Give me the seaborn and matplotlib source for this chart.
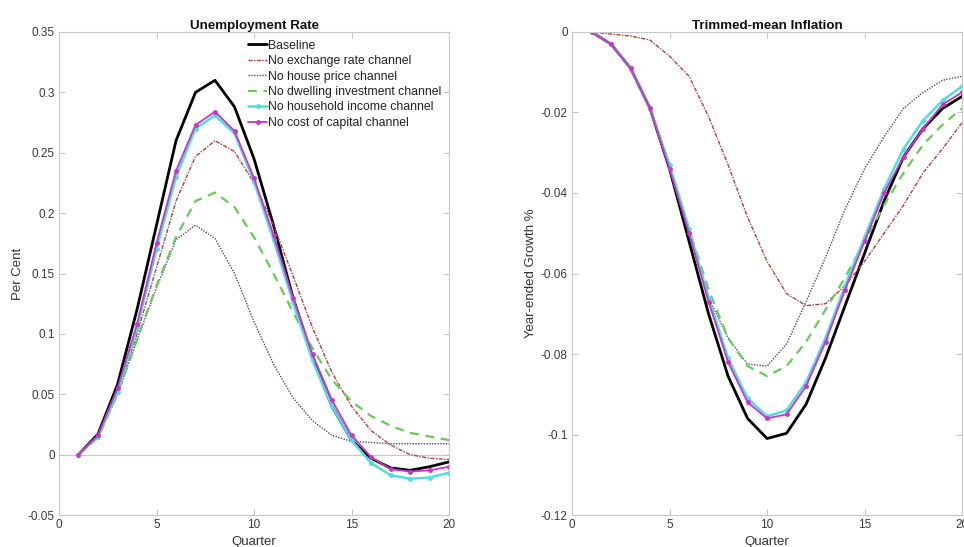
import matplotlib
matplotlib.use("Agg")
import matplotlib.pyplot as plt
from matplotlib.ticker import FuncFormatter
import numpy as np
import pandas as pd
import seaborn as sns

quarters = list(range(1, 21))

# unemployment rate responses (per cent)
unemp_baseline = [0, 0.017, 0.058, 0.12, 0.19, 0.26, 0.30, 0.31, 0.288, 0.245,
                  0.19, 0.13, 0.08, 0.04, 0.012, -0.003, -0.011, -0.013, -0.010, -0.006]
unemp_exchange = [0, 0.015, 0.05, 0.10, 0.155, 0.21, 0.247, 0.26, 0.251, 0.225,
                  0.19, 0.148, 0.105, 0.068, 0.04, 0.02, 0.008, 0.0, -0.003, -0.004]
unemp_house = [0, 0.015, 0.05, 0.095, 0.138, 0.178, 0.19, 0.179, 0.15, 0.11,
               0.075, 0.047, 0.028, 0.016, 0.011, 0.01, 0.009, 0.009, 0.009, 0.009]
unemp_dwelling = [0, 0.014, 0.05, 0.095, 0.14, 0.18, 0.21, 0.217, 0.205, 0.18,
                  0.15, 0.118, 0.088, 0.062, 0.044, 0.032, 0.024, 0.018, 0.015, 0.012]
unemp_income = [0, 0.015, 0.052, 0.105, 0.17, 0.23, 0.27, 0.281, 0.266, 0.226,
                0.178, 0.126, 0.078, 0.04, 0.012, -0.007, -0.017, -0.02, -0.019, -0.015]
unemp_capital = [0, 0.016, 0.055, 0.108, 0.175, 0.235, 0.273, 0.284, 0.268, 0.229,
                 0.182, 0.13, 0.083, 0.045, 0.016, -0.002, -0.012, -0.014, -0.013, -0.010]

# trimmed-mean inflation responses (year-ended growth %)
infl_baseline = [0, -0.003, -0.009, -0.019, -0.034, -0.052, -0.070, -0.0855, -0.096, -0.101,
                 -0.0997, -0.0925, -0.081, -0.068, -0.055, -0.042, -0.031, -0.024, -0.019, -0.016]
infl_exchange = [0, -0.0005, -0.001, -0.002, -0.006, -0.011, -0.021, -0.033, -0.046, -0.057,
                 -0.065, -0.068, -0.0675, -0.063, -0.057, -0.050, -0.043, -0.035, -0.029, -0.0225]
infl_house = [0, -0.003, -0.009, -0.019, -0.034, -0.050, -0.066, -0.076, -0.0825, -0.083,
              -0.0775, -0.067, -0.056, -0.044, -0.034, -0.026, -0.019, -0.015, -0.012, -0.011]
infl_dwelling = [0, -0.003, -0.009, -0.019, -0.033, -0.049, -0.064, -0.076, -0.083, -0.0855,
                 -0.083, -0.077, -0.069, -0.061, -0.052, -0.043, -0.035, -0.028, -0.023, -0.019]
infl_income = [0, -0.003, -0.009, -0.019, -0.033, -0.049, -0.066, -0.081, -0.091, -0.0955,
               -0.094, -0.087, -0.076, -0.063, -0.051, -0.039, -0.029, -0.022, -0.017, -0.0135]
infl_capital = [0, -0.003, -0.009, -0.019, -0.034, -0.050, -0.067, -0.082, -0.092, -0.096,
                -0.095, -0.088, -0.077, -0.064, -0.052, -0.040, -0.031, -0.024, -0.018, -0.015]

labels = ["Baseline", "No exchange rate channel", "No house price channel",
          "No dwelling investment channel", "No household income channel",
          "No cost of capital channel"]

# style for each series: colour, linestyle, linewidth, marker
styles = [
    ("#000000", "-", 2.0, None),
    ("#b5403a", (0, (3, 1, 1, 1)), 1.0, None),
    ("#4a4a8c", (0, (1, 1)), 1.0, None),
    ("#66cc55", (0, (4, 3)), 1.6, None),
    ("#4fdde0", "-", 1.8, "o"),
    ("#cc33cc", "-", 1.3, "o"),
]

sns.set_style("white")
plt.rcParams['font.family'] = ['Liberation Sans', 'DejaVu Sans']

fig = plt.figure(figsize=(9.64, 5.47), dpi=100)
axL = fig.add_axes([0.0612, 0.0585, 0.4046, 0.883])
axR = fig.add_axes([0.5934, 0.0585, 0.4046, 0.883])


def fmt(v, pos):
    return "%g" % round(v, 4)


def drawPanel(ax, seriesList, title, ylabel, ylim, yticks):
    for vals, lab, (col, ls, lw, mk) in zip(seriesList, labels, styles):
        df = pd.DataFrame({"Quarter": quarters, "value": vals})
        sns.lineplot(data=df, x="Quarter", y="value", ax=ax, color=col, linestyle=ls,
                     linewidth=lw, marker=mk, markersize=3.5 if mk else 0,
                     markeredgewidth=0, label=lab, legend=False)
    ax.set_xlim(0, 20)
    ax.set_ylim(*ylim)
    ax.set_xticks([0, 5, 10, 15, 20])
    ax.set_yticks(yticks)
    ax.yaxis.set_major_formatter(FuncFormatter(fmt))
    ax.set_title(title, fontsize=9.6, fontweight="bold", pad=2.5, color="#111111")
    ax.set_xlabel("Quarter", fontsize=9.5, color="#333333")
    ax.set_ylabel(ylabel, fontsize=9.5, color="#333333")
    ax.xaxis.set_label_coords(0.5, -0.043)
    ax.yaxis.set_label_coords(-0.089, 0.5)
    ax.tick_params(direction="in", length=4, width=0.6, colors="#bbbbbb",
                   labelcolor="#3a3a3a", labelsize=8.5, top=True, right=True,
                   bottom=True, left=True, pad=3)
    for sp in ax.spines.values():
        sp.set_color("#c8c8c8")
        sp.set_linewidth(0.8)
    ax.grid(False)


drawPanel(axL, [unemp_baseline, unemp_exchange, unemp_house, unemp_dwelling,
                unemp_income, unemp_capital],
          "Unemployment Rate", "Per Cent", (-0.05, 0.35),
          np.arange(-0.05, 0.351, 0.05))
axL.axhline(0, color="#c8c8c8", linewidth=0.8, zorder=0)

drawPanel(axR, [infl_baseline, infl_exchange, infl_house, infl_dwelling,
                infl_income, infl_capital],
          "Trimmed-mean Inflation", "Year-ended Growth %", (-0.12, 0),
          np.arange(-0.12, 0.001, 0.02))

handles, labs = axL.get_legend_handles_labels()
axL.legend(handles, labs, loc="upper left", bbox_to_anchor=(0.485, 0.984),
           frameon=False, fontsize=8.8, handlelength=1.55, handletextpad=0.1,
           labelspacing=0.28, borderpad=0, borderaxespad=0, labelcolor="#222222")

fig.savefig("out.png", dpi=100)
